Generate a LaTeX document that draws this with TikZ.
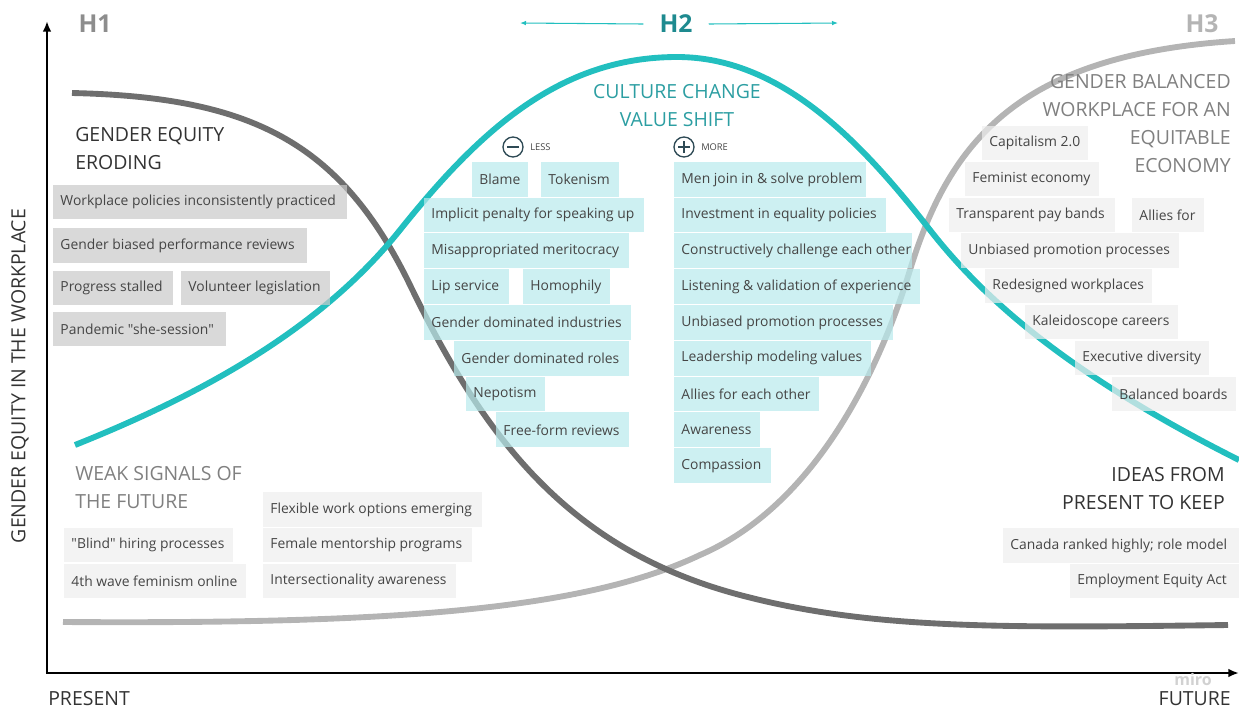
\documentclass[tikz,border=0pt]{standalone}
\usepackage{fontspec}
\setmainfont{Open Sans}[Ligatures=TeXOff]
\usetikzlibrary{arrows.meta}

\definecolor{tealline}{HTML}{22BFBF}
\definecolor{tealdark}{HTML}{1E8A8F}
\definecolor{tealhead}{HTML}{2C9EA2}
\definecolor{hone}{HTML}{6E6E6E}
\definecolor{hthree}{HTML}{B4B4B4}
\definecolor{boxgray}{HTML}{C9C9C9}
\definecolor{boxcyan}{HTML}{B8EAEC}
\definecolor{boxlight}{HTML}{EEEEEE}
\definecolor{ink}{HTML}{454545}
\definecolor{headdark}{HTML}{333333}
\definecolor{headgray}{HTML}{808080}
\definecolor{signcol}{HTML}{2E4A55}

% a card: name, style, x1, y1, x2, y2, text (pixel coordinates);
% the text sits left-aligned with a small inner margin
\newcommand\card[7]{%
  \pgfmathsetlengthmacro\cardwidth{(#5-#3)*0.75pt}%
  \node[#2, minimum height={(#6-#4)*0.75pt}]
    (#1) at ({(#3+#5)/2},{(#4+#6)/2})
    {\makebox[\cardwidth][l]{\hspace*{5.6pt}#7}};}

\tikzset{
  cardbase/.style={inner sep=0pt, fill opacity=0.7, text opacity=1,
    text=ink, font=\fontsize{10.4pt}{12pt}\selectfont},
  erodecard/.style={cardbase, fill=boxgray},
  shiftcard/.style={cardbase, fill=boxcyan},
  futurecard/.style={cardbase, fill=boxlight},
  curve/.style={line width=4.4pt, line cap=butt},
  heading/.style={inner sep=0pt, font=\fontsize{14.6pt}{21pt}\selectfont},
  axislabel/.style={inner sep=0pt, text=headdark, font=\fontsize{14.6pt}{17pt}\selectfont},
  horizon/.style={inner sep=0pt, font=\fontsize{18.5pt}{20pt}\selectfont\bfseries},
  axis/.style={line width=1.6pt, -{Latex[length=8pt,width=6.5pt]}},
  spread/.style={tealline, line width=0.8pt, -{Latex[length=4.5pt,width=3.5pt]}},
  sign/.style={circle, draw=signcol, line width=1pt, minimum size=15pt, inner sep=0pt},
  signlabel/.style={inner sep=0pt, text=ink, font=\fontsize{7pt}{8pt}\selectfont}
}

\begin{document}
\begin{tikzpicture}[x=0.75pt, y=-0.75pt]
\useasboundingbox (0,0) rectangle (1239,708);

% axes
\coordinate (origin) at (47,673);
\coordinate (ytop) at (47,21);
\coordinate (xend) at (1239,673);
\draw[axis] (origin) -- (ytop);
\draw[axis] ([xshift=-0.8pt]origin) -- (xend);

% three horizon curves
\draw[curve, hthree] (63,622)
  .. controls (380,624) and (580,612) .. (700,555)
  .. controls (800,512) and (870,400) .. (910,270)
  .. controls (950,140) and (1020,55) .. (1235,41);
\draw[curve, hone] (72,93)
  .. controls (250,97) and (340,141) .. (410,285)
  .. controls (485,440) and (570,550) .. (740,595)
  .. controls (870,629.4) and (1000,628) .. (1228,625);
\draw[curve, tealline] (75,445)
  .. controls (200,395) and (320,330) .. (400,230)
  .. controls (480,130) and (560,57) .. (677,57)
  .. controls (780,57) and (860,140) .. (930,230)
  .. controls (990,307) and (1080,380) .. (1239,460);

% horizon labels
\node[horizon, text=headgray!90] (h1) at (95,24) {H1};
\node[horizon, text=tealdark] (h2) at (676,24) {H2};
\node[horizon, text=hthree] (h3) at (1202,24) {H3};
\coordinate (h2left) at (520,23);
\coordinate (h2right) at (838,23);
\draw[spread] ([xshift=-12pt]h2.west) -- (h2left);
\draw[spread] ([xshift=12pt]h2.east) -- (h2right);

% axis labels
\node[axislabel, rotate=90] (yaxis) at (20,376) {GENDER EQUITY IN THE WORKPLACE};
\node[axislabel, anchor=north west] (present) at (48,691) {PRESENT};
\node[axislabel, anchor=north east] (future) at (1231,691) {FUTURE};
\node[inner sep=0pt, text=black!18, font=\fontsize{12pt}{14pt}\selectfont\bfseries]
  (brand) at (1193,679) {miro};

% section headings
\node[heading, anchor=north west, align=left, text=headdark] (eroding) at (75,127)
  {GENDER EQUITY\\ERODING};
\node[heading, anchor=north, align=center, text=tealhead] (culture) at (677,84)
  {CULTURE CHANGE\\VALUE SHIFT};
\node[heading, anchor=north east, align=right, text=headgray] (balanced) at (1231,74)
  {GENDER BALANCED\\WORKPLACE FOR AN\\EQUITABLE\\ECONOMY};
\node[heading, anchor=north west, align=left, text=headgray] (weak) at (75,466)
  {WEAK SIGNALS OF\\THE FUTURE};
\node[heading, anchor=north east, align=right, text=headdark] (keep) at (1225,467)
  {IDEAS FROM\\PRESENT TO KEEP};

% less / more markers
\node[sign] (minus) at (513,147) {};
\draw[signcol, line width=1pt] ([xshift=-4.5pt]minus.center) -- ([xshift=4.5pt]minus.center);
\node[signlabel, anchor=west] (less) at (530,147) {LESS};
\node[sign] (plus) at (684,147) {};
\draw[signcol, line width=1pt] ([xshift=-4.5pt]plus.center) -- ([xshift=4.5pt]plus.center);
\draw[signcol, line width=1pt] ([yshift=-4.5pt]plus.center) -- ([yshift=4.5pt]plus.center);
\node[signlabel, anchor=west] (more) at (701,147) {MORE};

% H1: gender equity eroding
\card{g1}{erodecard}{53}{185}{347}{219}{Workplace policies inconsistently practiced}
\card{g2}{erodecard}{53}{228}{307}{263}{Gender biased performance reviews}
\card{g3}{erodecard}{53}{271}{173}{305}{Progress stalled}
\card{g4}{erodecard}{181}{271}{330}{305}{Volunteer legislation}
\card{g5}{erodecard}{53}{312}{226}{346}{Pandemic "she-session"}

% H2: less
\card{c1}{shiftcard}{472}{162}{528}{197}{Blame}
\card{c2}{shiftcard}{541}{162}{619}{197}{Tokenism}
\card{c3}{shiftcard}{424}{197.6}{644}{232.4}{Implicit penalty for speaking up}
\card{c4}{shiftcard}{424}{233.4}{629}{268.2}{Misappropriated meritocracy}
\card{c5}{shiftcard}{424}{269.2}{509}{304}{Lip service}
\card{c6}{shiftcard}{523}{269.2}{610}{304}{Homophily}
\card{c7}{shiftcard}{424}{305}{631}{339.8}{Gender dominated industries}
\card{c8}{shiftcard}{454}{340.8}{629}{375.6}{Gender dominated roles}
\card{c9}{shiftcard}{466}{376.6}{545}{411.4}{Nepotism}
\card{c10}{shiftcard}{496}{412.4}{629}{447.2}{Free-form reviews}

% H2: more
\card{m1}{shiftcard}{674}{162}{866}{196.8}{Men join in \& solve problem}
\card{m2}{shiftcard}{674}{197.6}{886}{232.4}{Investment in equality policies}
\card{m3}{shiftcard}{674}{233.4}{912}{268.2}{Constructively challenge each other}
\card{m4}{shiftcard}{674}{269.2}{920}{304}{Listening \& validation of experience}
\card{m5}{shiftcard}{674}{305}{893}{339.8}{Unbiased promotion processes}
\card{m6}{shiftcard}{674}{340.8}{871}{375.6}{Leadership modeling values}
\card{m7}{shiftcard}{674}{376.6}{819}{411.4}{Allies for each other}
\card{m8}{shiftcard}{674}{412.4}{760}{447.2}{Awareness}
\card{m9}{shiftcard}{674}{448.2}{771}{483}{Compassion}

% H3: gender balanced workplace
\card{r1}{futurecard}{982}{126}{1088}{160}{Capitalism 2.0}
\card{r2}{futurecard}{965}{162}{1099}{196}{Feminist economy}
\card{r3}{futurecard}{949}{198}{1115}{232}{Transparent pay bands}
\card{r4}{futurecard}{1132}{198}{1204}{232}{Allies for}
\card{r5}{futurecard}{961}{233}{1179}{268}{Unbiased promotion processes}
\card{r6}{futurecard}{985}{269}{1152}{303}{Redesigned workplaces}
\card{r7}{futurecard}{1025}{305}{1178}{339}{Kaleidoscope careers}
\card{r8}{futurecard}{1075}{341}{1209}{375}{Executive diversity}
\card{r9}{futurecard}{1112}{377}{1236}{411}{Balanced boards}

% weak signals
\card{w1}{futurecard}{64}{528}{233}{562}{"Blind" hiring processes}
\card{w2}{futurecard}{64}{564}{246}{598}{4th wave feminism online}
\card{w3}{futurecard}{263}{492}{482}{527}{Flexible work options emerging}
\card{w4}{futurecard}{263}{528}{472}{562}{Female mentorship programs}
\card{w5}{futurecard}{263}{564}{456}{598}{Intersectionality awareness}

% ideas to keep
\card{k1}{futurecard}{1003}{528}{1239}{563}{Canada ranked highly; role model}
\card{k2}{futurecard}{1070}{564}{1239}{598}{Employment Equity Act}

\end{tikzpicture}
\end{document}
